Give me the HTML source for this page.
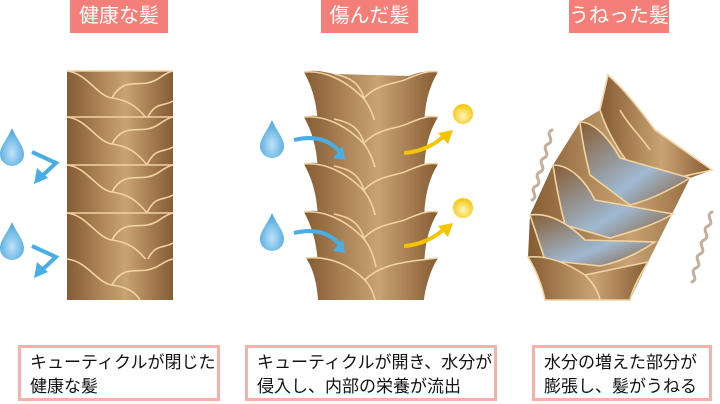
<!DOCTYPE html>
<html><head><meta charset="utf-8"><style>
body{margin:0;width:720px;height:404px;background:#fff;overflow:hidden;position:relative;font-family:"Liberation Sans","Noto Sans CJK JP",sans-serif}
.h{position:absolute;top:0;height:33px;background:#f47f78;color:#fff;font-size:20px;line-height:33px;text-align:center}
.b{position:absolute;top:345px;height:56px;border:3px solid #f6b1ab;box-sizing:border-box;font-size:17px;line-height:24px;padding:3px 0 0 9px;color:#111;background:#fff}
svg{position:absolute;left:0;top:0}
</style></head><body>
<div class="h" style="left:70px;width:98px">健康な髪</div>
<div class="h" style="left:321px;width:97px">傷んだ髪</div>
<div class="h" style="left:569px;width:100px">うねった髪</div>
<svg width="720" height="404" viewBox="0 0 720 404">
<defs>
<linearGradient id="g" x1="0" x2="1"><stop offset="0" stop-color="#865c33"/><stop offset=".55" stop-color="#c9a374"/><stop offset="1" stop-color="#865c33"/></linearGradient>
<linearGradient id="gb" x1="0" y1="0" x2="1" y2="1"><stop offset="0" stop-color="#865c33"/><stop offset=".6" stop-color="#9fb9d2"/><stop offset="1" stop-color="#865c33"/></linearGradient>
<radialGradient id="w" cx=".5" cy=".65" r=".6"><stop offset="0" stop-color="#bfe2f7"/><stop offset="1" stop-color="#4aa6dd"/></radialGradient>
<radialGradient id="y" cx=".5" cy=".6" r=".6"><stop offset="0" stop-color="#fff6c0"/><stop offset="1" stop-color="#f5c400"/></radialGradient>
<g id="seg"><rect x="0" y="0" width="106" height="52" fill="url(#g)"/>
<path d="M0 0 C20 2 30 25 45 27 C60 29 70 35 80 48 M45 27 C55 8 70 14 80 12 C92 10 96 2 106 0 M80 48 C88 30 96 36 106 30" stroke="#f0d3a0" stroke-width="1.6" fill="none"/>
<path d="M0 0 H106" stroke="#f0d3a0" stroke-width="1.5"/></g>
<g id="ms"><path d="M0 0 C10 -3 20 0 30 2 L105 4 C115 0 125 -2 134 0 C125 15 121 30 120 55 L14 55 C13 30 8 15 0 0Z" fill="url(#g)"/>
<path d="M0 0 C20 -2 40 8 55 22 C65 30 70 45 72 55 M60 26 C75 10 95 12 105 6 C115 2 125 -2 134 0 M30 2 C45 5 55 10 60 26" stroke="#f0d3a0" stroke-width="1.6" fill="none"/></g>
<g id="drop"><path d="M0 0 C4 10 12 18 12 26 A12 12 0 0 1 -12 26 C-12 18 -4 10 0 0Z" fill="url(#w)"/></g>
</defs>
<use href="#seg" x="67" y="71"/><use href="#seg" x="67" y="117"/><use href="#seg" x="67" y="165"/><use href="#seg" x="67" y="213"/>
<g><rect x="67" y="259" width="106" height="41" fill="url(#g)"/><path d="M67 259 C87 261 97 283 112 285 C127 287 135 292 140 300 M112 285 C122 266 137 272 147 270 C159 268 163 261 173 259" stroke="#f0d3a0" stroke-width="1.6" fill="none"/></g>
<use href="#drop" x="12" y="128"/><use href="#drop" x="12" y="222"/>
<path d="M32 152 L56 163 L42 176" stroke="#49aee6" stroke-width="4" fill="none"/><path d="M34 184 L37 168 L48 178Z" fill="#49aee6"/>
<path d="M32 246 L56 257 L42 270" stroke="#49aee6" stroke-width="4" fill="none"/><path d="M34 278 L37 262 L48 272Z" fill="#49aee6"/>
<rect x="320" y="90" width="100" height="210" fill="url(#g)"/>
<use href="#ms" x="304" y="72"/><use href="#ms" x="304" y="117"/><use href="#ms" x="304" y="164"/><use href="#ms" x="304" y="212"/>
<g><path d="M306 258 C330 255 350 262 360 270 L438 258 C430 270 425 290 424 300 L318 300 C317 285 314 270 306 258Z" fill="url(#g)"/><path d="M306 258 C330 256 350 265 365 280 C372 288 374 295 375 300 M365 280 C380 265 400 262 438 258" stroke="#f0d3a0" stroke-width="1.6" fill="none"/></g>
<use href="#drop" x="272" y="120"/><use href="#drop" x="272" y="213"/>
<path d="M294 140 C315 135 330 140 340 152" stroke="#49aee6" stroke-width="4" fill="none"/><path d="M333 158 L345 160 L343 146Z" fill="#49aee6"/>
<path d="M294 233 C315 228 330 233 340 245" stroke="#49aee6" stroke-width="4" fill="none"/><path d="M333 251 L345 253 L343 239Z" fill="#49aee6"/>
<circle cx="463" cy="114" r="10" fill="url(#y)"/><circle cx="463" cy="208" r="10" fill="url(#y)"/>
<path d="M404 153 C420 152 435 145 445 135" stroke="#f5c400" stroke-width="4" fill="none"/><path d="M438 133 L453 130 L448 144Z" fill="#f5c400"/>
<path d="M404 246 C420 245 435 238 445 228" stroke="#f5c400" stroke-width="4" fill="none"/><path d="M438 226 L453 223 L448 237Z" fill="#f5c400"/>
<!-- wavy strand -->
<path d="M545 300 L630 300 L648 262 L690 178 L712 170 L655 130 L608 75 L600 110 L580 122 L553 165 L530 215 L528 257 L540 270Z" fill="url(#g)"/>
<g stroke="#f0d3a0" stroke-width="1.6">
<path d="M608 75 C625 90 640 110 655 130 L712 170 C690 175 665 180 650 185 C630 170 610 140 600 110Z" fill="url(#g)"/>
<path d="M580 122 C595 122 610 140 620 158 L690 178 C670 190 650 200 630 205 L590 175 C585 155 582 140 580 122Z" fill="url(#gb)"/>
<path d="M553 165 C570 165 585 180 595 200 L673 214 C655 225 630 232 610 238 L565 225 C560 205 556 185 553 165Z" fill="url(#gb)"/>
<path d="M530 215 C550 212 570 225 585 240 L655 242 C640 252 620 262 600 266 L545 260 C540 245 535 230 530 215Z" fill="url(#gb)"/>
<path d="M528 257 C550 255 570 265 585 275 L648 262 C640 275 632 290 630 300 L545 300 C542 285 536 270 528 257Z" fill="url(#g)"/>
<path d="M620 110 C628 125 640 135 650 150 M585 275 C595 285 598 292 600 300" fill="none"/>
</g>
<path d="M552 130 c-8 4 4 10 -4 14 c-8 4 4 10 -4 14 c-8 4 4 10 -4 14 c-8 4 4 10 -4 14 c-8 4 4 10 -4 14" stroke="#c4b09a" stroke-width="3" fill="none" stroke-linecap="round"/>
<path d="M712 212 c-8 4 4 10 -4 14 c-8 4 4 10 -4 14 c-8 4 4 10 -4 14 c-8 4 4 10 -4 14 c-8 4 4 10 -4 14" stroke="#c4b09a" stroke-width="3" fill="none" stroke-linecap="round"/>
</svg>
<div class="b" style="left:18px;width:202px">キューティクルが閉じた<br>健康な髪</div>
<div class="b" style="left:245px;width:252px">キューティクルが開き、水分が<br>侵入し、内部の栄養が流出</div>
<div class="b" style="left:532px;width:180px">水分の増えた部分が<br>膨張し、髪がうねる</div>
</body></html>
